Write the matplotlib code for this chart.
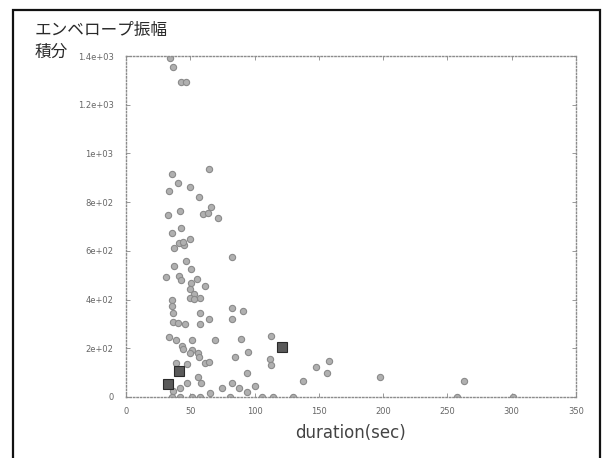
import matplotlib
matplotlib.use("Agg")
import matplotlib.pyplot as plt
from matplotlib.patches import Rectangle

# duration (sec) / envelope amplitude integral
duration = [34.2, 36.6, 42.8, 46.7, 64.6, 35.8, 40.4, 49.8, 33.4, 56.8,
            66.1, 42.0, 32.7, 59.9, 63.8, 71.6, 42.8, 35.8, 49.8, 41.2,
            45.1, 44.3, 37.3, 82.4, 46.7, 37.3, 50.6, 31.1, 41.2, 42.8,
            55.2, 50.6, 61.4, 49.8, 52.9, 57.6, 49.8, 52.9, 35.8, 35.8,
            82.4, 91.0, 36.6, 57.6, 82.4, 64.6, 36.6, 40.4, 57.6, 45.9,
            33.4, 38.9, 51.3, 69.2, 89.4, 43.6, 44.3, 51.3, 49.8, 56.0,
            56.8, 61.4, 64.6, 94.9, 84.8, 112.0, 112.8, 112.8, 38.9, 47.4,
            56.0, 94.1, 47.4, 58.3, 82.4, 100.3, 74.7, 87.9, 42.0, 36.6,
            65.3, 94.1, 35.8, 42.0, 51.3, 57.6, 80.9, 105.8, 114.3, 129.9,
            137.7, 147.8, 157.9, 156.3, 197.6, 262.9, 257.4, 301.0]
amplitude = [1392, 1355, 1293, 1293, 936, 916, 879, 862, 846, 821,
             780, 764, 747, 751, 755, 735, 694, 673, 649, 632,
             624, 636, 612, 575, 558, 538, 526, 493, 497, 480,
             484, 468, 456, 443, 423, 406, 406, 402, 398, 374,
             365, 353, 345, 345, 320, 320, 308, 304, 300, 300,
             246, 234, 234, 234, 238, 209, 197, 193, 181, 181,
             164, 140, 144, 185, 164, 156, 131, 250, 140, 135,
             82, 99, 57, 57, 57, 45, 37, 37, 37, 25,
             16, 21, 0, 0, 0, 0, 0, 0, 0, 0,
             66, 123, 148, 99, 82, 66, 0, 0]

# overlapping points drawn darker
dup_duration = [32.7, 41.2, 121.3]
dup_amplitude = [53, 107, 205]

xticks = [0, 50, 100, 150, 200, 250, 300, 350]
yticks = [0, 200, 400, 600, 800, 1000, 1200, 1400]
ytick_labels = ["0", "2e+02", "4e+02", "6e+02", "8e+02", "1e+03", "1.2e+03", "1.4e+03"]

fig = plt.figure(figsize=(6.11, 4.58), dpi=100)
ax = fig.add_axes([126/611, 1 - 397/458, 450/611, 341/458])

ax.plot(duration, amplitude, linestyle="none", marker="o", markersize=4.5,
        markerfacecolor="#b0b0b0", markeredgecolor="#8a8a8a", markeredgewidth=0.8)
ax.plot(dup_duration, dup_amplitude, linestyle="none", marker="s", markersize=7.5,
        markerfacecolor="#5a5a5a", markeredgecolor="#2a2a2a", markeredgewidth=0.8)

ax.set_xlim(0, 350)
ax.set_ylim(0, 1400)
ax.set_xticks(xticks)
ax.set_xticklabels([str(t) for t in xticks])
ax.set_yticks(yticks)
ax.set_yticklabels(ytick_labels)
ax.tick_params(direction="in", length=3, width=0.6, color="#888888",
               labelsize=6, labelcolor="#666666", top=True, right=True)
ax.tick_params(axis="y", pad=9)
ax.tick_params(axis="x", pad=7)
for s in ax.spines.values():
    s.set_linestyle((0, (1, 1.5)))
    s.set_color("#8c8c8c")
    s.set_linewidth(1.0)

ax.set_xlabel("duration(sec)", fontsize=12, color="#444444", labelpad=6)

fig.text(35/611, 1 - 30/458, "エンベロープ振幅", fontsize=12, color="#2a2a2a",
         family="Noto Sans CJK JP", va="center", ha="left")
fig.text(35/611, 1 - 52/458, "積分", fontsize=12, color="#2a2a2a",
         family="Noto Sans CJK JP", va="center", ha="left")

# outer frame of the scanned page
fig.patches.append(Rectangle((13/611, -0.1), 587/611, 1.1 - 10/458,
                             transform=fig.transFigure, fill=False,
                             edgecolor="#111111", linewidth=1.6))

fig.savefig("out.png", dpi=100)
